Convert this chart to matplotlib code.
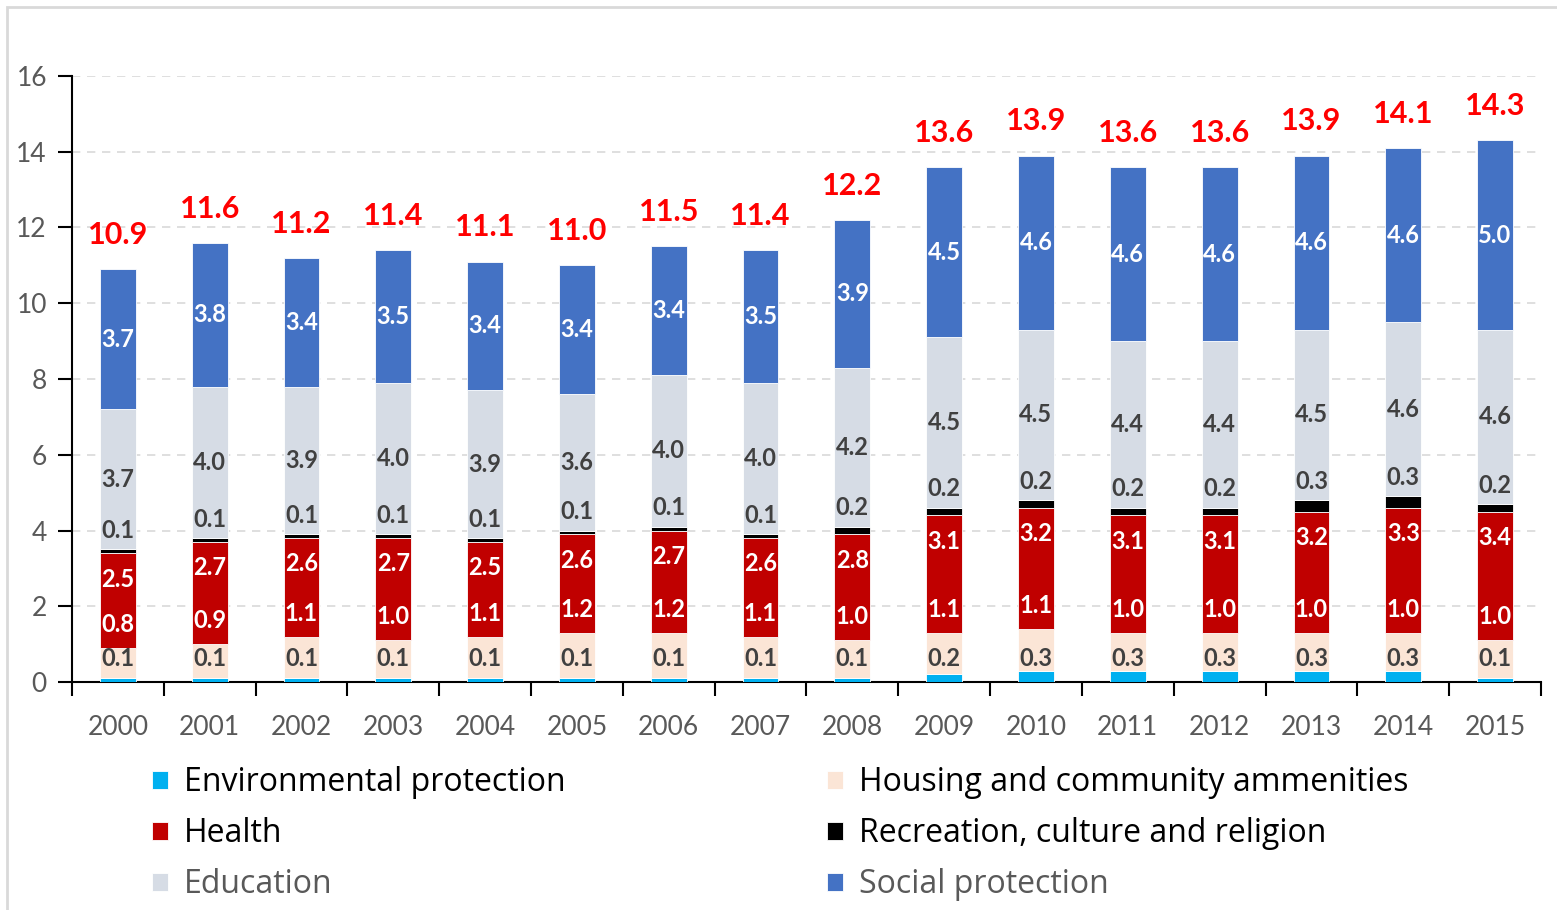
import matplotlib.pyplot as plt
from matplotlib.patches import Rectangle
import numpy as np

plt.rcParams['font.family'] = ['Lato', 'DejaVu Sans']

years = ['2000', '2001', '2002', '2003', '2004', '2005', '2006', '2007',
         '2008', '2009', '2010', '2011', '2012', '2013', '2014', '2015']

environment = [0.1, 0.1, 0.1, 0.1, 0.1, 0.1, 0.1, 0.1, 0.1, 0.2, 0.3, 0.3, 0.3, 0.3, 0.3, 0.1]
housing = [0.8, 0.9, 1.1, 1.0, 1.1, 1.2, 1.2, 1.1, 1.0, 1.1, 1.1, 1.0, 1.0, 1.0, 1.0, 1.0]
health = [2.5, 2.7, 2.6, 2.7, 2.5, 2.6, 2.7, 2.6, 2.8, 3.1, 3.2, 3.1, 3.1, 3.2, 3.3, 3.4]
recreation = [0.1, 0.1, 0.1, 0.1, 0.1, 0.1, 0.1, 0.1, 0.2, 0.2, 0.2, 0.2, 0.2, 0.3, 0.3, 0.2]
education = [3.7, 4.0, 3.9, 4.0, 3.9, 3.6, 4.0, 4.0, 4.2, 4.5, 4.5, 4.4, 4.4, 4.5, 4.6, 4.6]
social = [3.7, 3.8, 3.4, 3.5, 3.4, 3.4, 3.4, 3.5, 3.9, 4.5, 4.6, 4.6, 4.6, 4.6, 4.6, 5.0]
totals = [10.9, 11.6, 11.2, 11.4, 11.1, 11.0, 11.5, 11.4, 12.2, 13.6, 13.9, 13.6, 13.6, 13.9, 14.1, 14.3]

names = ['Environmental protection', 'Housing and community ammenities', 'Health',
         'Recreation, culture and religion', 'Education', 'Social protection']
colors = ['#00B0F0', '#FBE5D6', '#C00000', '#000000', '#D6DCE5', '#4472C4']
series = [environment, housing, health, recreation, education, social]

fig = plt.figure(figsize=(15.57, 9.10), dpi=100)
ax = fig.add_axes([0.0462, 0.2505, 0.9435, 0.666])

x = np.arange(len(years))
w = 0.39
bottom = np.zeros(len(years))
bars = []
for vals, c, n in zip(series, colors, names):
    b = ax.bar(x, vals, w, bottom=bottom, color=c, edgecolor='white', linewidth=0.6,
               label=n, zorder=3)
    bars.append(b)
    bottom = bottom + np.array(vals)

env = np.array(environment)
hou = np.array(housing)
hea = np.array(health)
rec = np.array(recreation)
edu = np.array(education)
soc = np.array(social)

dark = '#404040'
lab = dict(ha='center', va='center', fontsize=17, fontweight='bold', zorder=5)
for i in range(len(years)):
    top_h = env[i] + hou[i]
    top_he = top_h + hea[i]
    top_r = top_he + rec[i]
    top_e = top_r + edu[i]
    ax.text(x[i], 0.62, f'{env[i]:.1f}', color=dark, **lab)
    ax.text(x[i], top_h + 0.62, f'{hou[i]:.1f}', color='white', **lab)
    ax.text(x[i], top_he - 0.68, f'{hea[i]:.1f}', color='white', **lab)
    ax.text(x[i], top_r + 0.5, f'{rec[i]:.1f}', color=dark, **lab)
    ax.text(x[i], top_r + edu[i] / 2, f'{edu[i]:.1f}', color=dark, **lab)
    ax.text(x[i], top_e + soc[i] / 2, f'{soc[i]:.1f}', color='white', **lab)
    ax.text(x[i], totals[i] + 0.9, f'{totals[i]:.1f}', color='#FF0000',
            ha='center', va='center', fontsize=22, fontweight='bold', zorder=5)

ax.set_xlim(-0.5, len(years) - 0.5)
ax.set_ylim(0, 16)
ax.set_yticks(np.arange(0, 17, 2))
ax.set_xticks(x)
ax.set_xticklabels(years)
ax.set_xticks(np.arange(-0.5, len(years), 1), minor=True)
ax.tick_params(axis='x', which='major', length=0, pad=24, labelsize=19, labelcolor='#595959')
ax.tick_params(axis='x', which='minor', length=10, width=1.5, color='black')
ax.tick_params(axis='y', length=10, width=1.5, pad=8, labelsize=19, labelcolor='#595959')
for s in ['top', 'right']:
    ax.spines[s].set_visible(False)
ax.spines['left'].set_linewidth(1.5)
ax.spines['bottom'].set_linewidth(1.5)
ax.yaxis.grid(True, color='#D9D9D9', linestyle=(0, (5, 4)), linewidth=1.2, zorder=0)
ax.set_axisbelow(True)

order = [0, 2, 4, 1, 3, 5]
leg = fig.legend([bars[k] for k in order], [names[k] for k in order], ncol=2,
                 loc='upper left', bbox_to_anchor=(0.0976, 0.158), frameon=False,
                 prop={'family': 'Open Sans', 'size': 23},
                 handlelength=0.5, handleheight=0.5, handletextpad=0.5,
                 columnspacing=8.2, labelspacing=0.56, borderpad=0, borderaxespad=0)
for t, k in zip(leg.get_texts(), order):
    t.set_color('#595959' if k in (4, 5) else 'black')

fig.patches.append(Rectangle((7 / 1557, -0.1), 1.2, 1 - 7 / 910 + 0.1, transform=fig.transFigure,
                             fill=False, edgecolor='#D9D9D9', linewidth=2))

fig.savefig('out.png', dpi=100)
